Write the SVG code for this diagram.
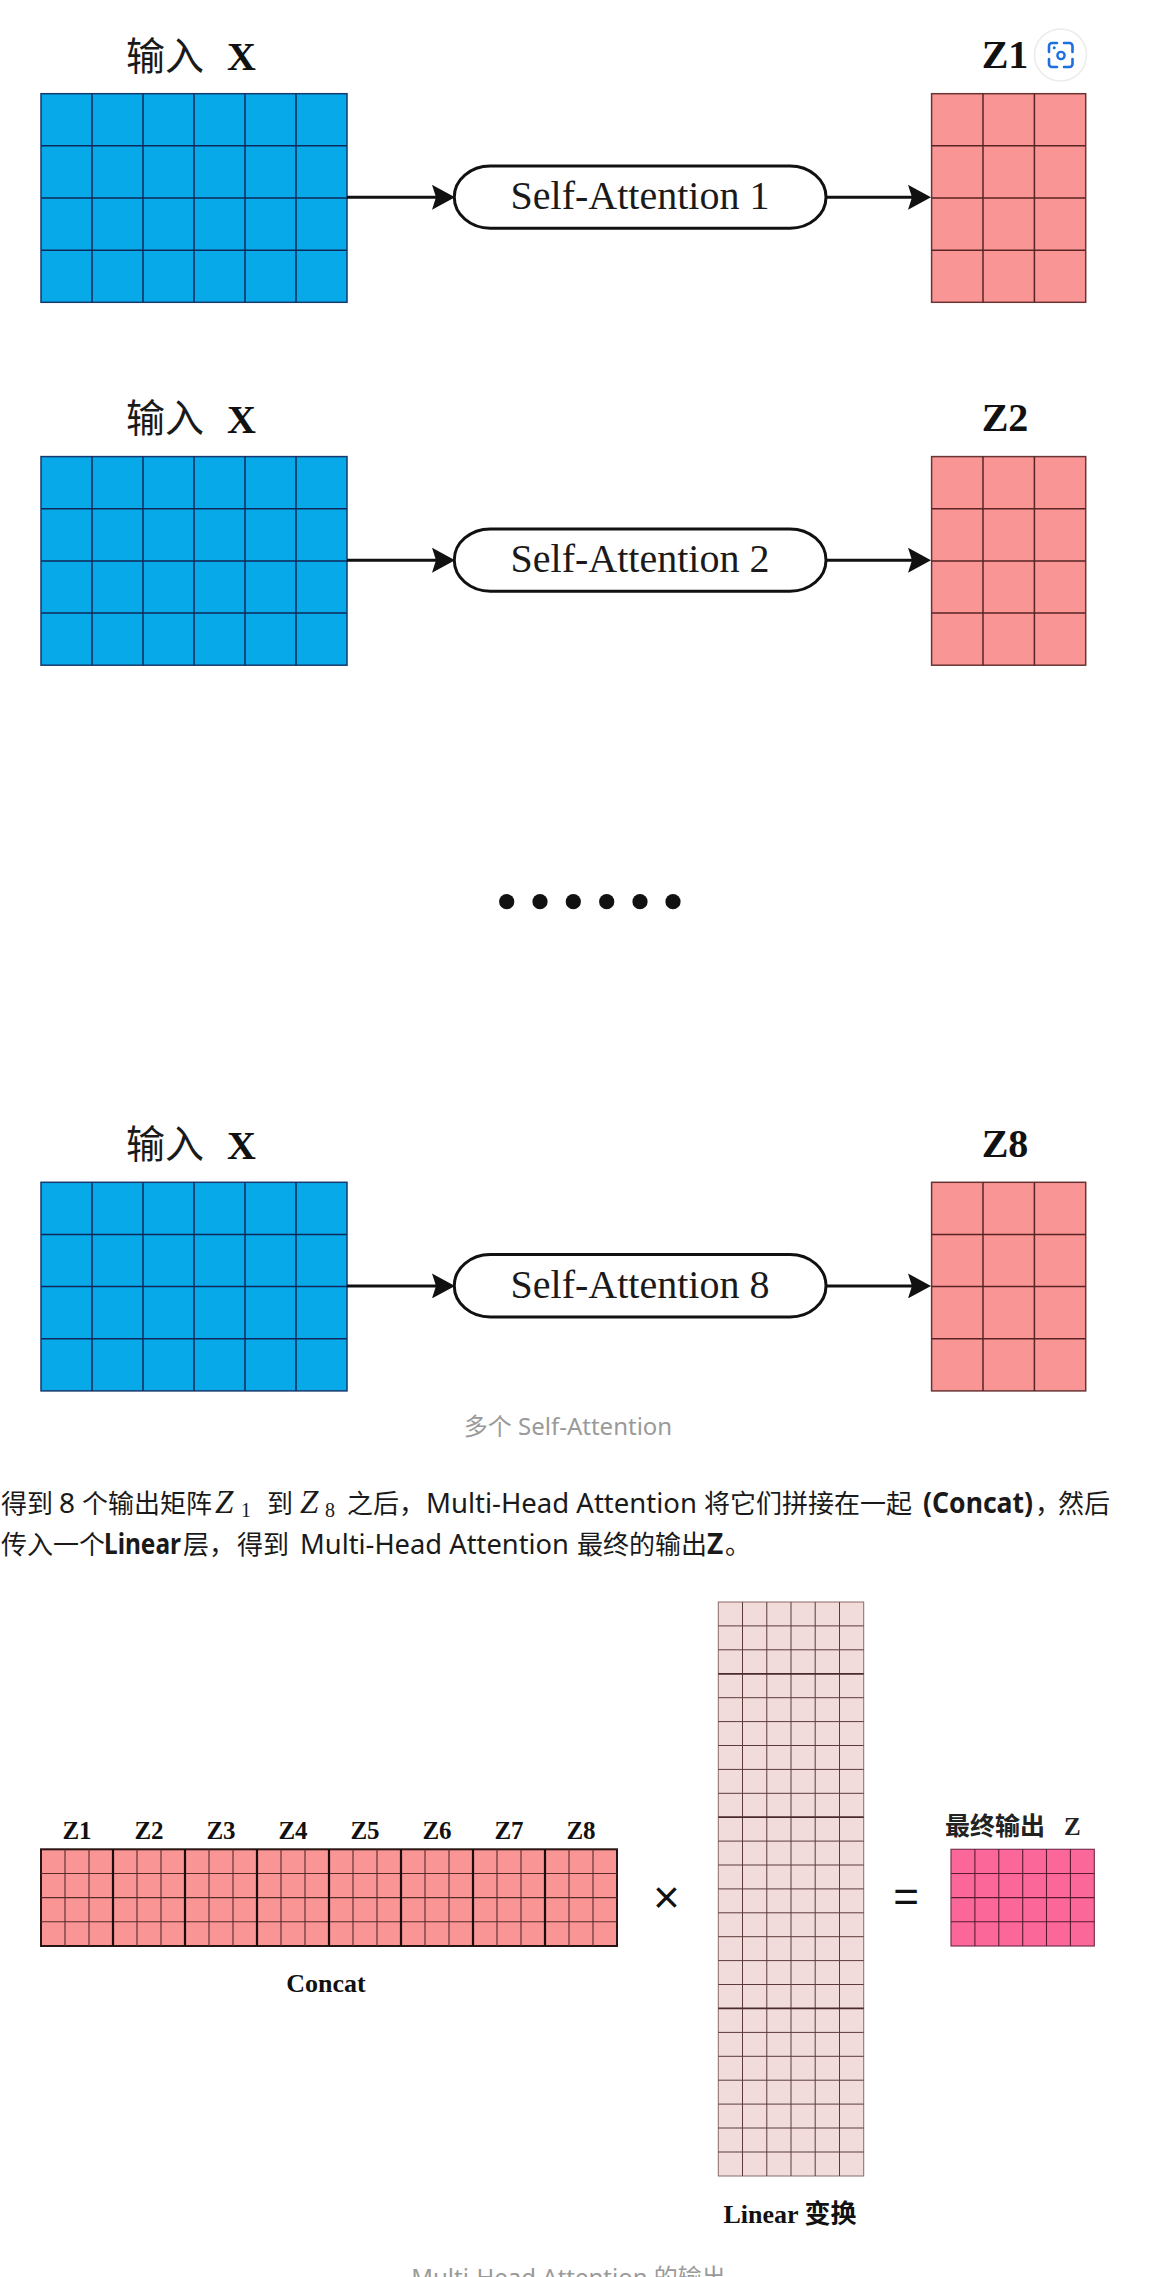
<svg xmlns="http://www.w3.org/2000/svg" xmlns:xlink="http://www.w3.org/1999/xlink" width="1167" height="2277" viewBox="0 0 1167 2277">
<style>
  .serif { font-family: "Liberation Serif", "Times New Roman", serif; }
  .lbl { font-family: "Liberation Serif", "Noto Sans CJK SC", serif; font-weight: 700; fill: #111; }
  .cjk { font-family: "Noto Sans CJK SC", sans-serif; fill: #1a1a1a; }
  .sa { font-family: "Liberation Serif", serif; font-size: 40px; fill: #1a1a1a; text-anchor: middle; }
  .pill { fill: #fff; stroke: #111; stroke-width: 3; }
  .conn { stroke: #111; stroke-width: 3; fill: none; marker-end: url(#ah); }
  .blue { fill: #07A9E8; stroke: #163a6e; stroke-width: 1.5; }
  .blueln { stroke: #0f2a58; stroke-width: 1.5; fill: none; }
  .pink { fill: #F99595; stroke: #6a3434; stroke-width: 1.5; }
  .pinkln { stroke: #5a2424; stroke-width: 1.5; fill: none; }
  .cap { font-family: "Noto Sans", "Noto Sans CJK SC", sans-serif; font-size: 24px; fill: #9a9a9a; text-anchor: middle; }
  .para { font-family: "Noto Sans", "Noto Sans CJK SC", sans-serif; font-size: 26px; fill: #1a1a1a; }
  .lat { font-size: 28px; }
  .b { font-weight: 700; }
  .math { font-family: "Liberation Serif", serif; font-style: italic; }
</style>
<defs>
  <marker id="ah" viewBox="0 0 23 25" refX="13" refY="12.5" markerWidth="23" markerHeight="25" markerUnits="userSpaceOnUse" orient="auto">
    <path d="M0,0 L23,12.5 L0,25 L4,12.5 z" fill="#111"/>
  </marker>
  <g id="bluegrid">
    <rect class="blue" x="41" y="93.7" width="306" height="208.6"/>
    <path class="blueln" d="M92,93.7V302.3M143,93.7V302.3M194,93.7V302.3M245,93.7V302.3M296,93.7V302.3M41,145.85H347M41,198H347M41,250.15H347"/>
  </g>
  <g id="pinkgrid">
    <rect class="pink" x="931.6" y="93.7" width="154.1" height="208.6"/>
    <path class="pinkln" d="M983,93.7V302.3M1034.4,93.7V302.3M931.6,145.85H1085.7M931.6,198H1085.7M931.6,250.15H1085.7"/>
  </g>
</defs>
<rect width="1167" height="2277" fill="#fff"/>

<!-- Panel 1 -->
<g id="panel1">
  <g id="input-x-1">
    <text class="cjk" x="126" y="69.5" font-size="39">输入</text>
    <text class="lbl" x="227" y="70" font-size="40">X</text>
    <use xlink:href="#bluegrid"/>
  </g>
  <g id="self-attention-1">
    <rect class="pill" x="454.3" y="166" width="371.7" height="62.3" rx="36" ry="31"/>
    <text class="sa" x="640" y="209.3">Self-Attention 1</text>
  </g>
  <g id="z1">
    <text class="lbl" x="1005" y="68.3" font-size="40" text-anchor="middle">Z1</text>
    <use xlink:href="#pinkgrid"/>
  </g>
</g>

<!-- Panel 2 -->
<g id="panel2" transform="translate(0,362.9)">
  <g id="input-x-2">
    <text class="cjk" x="126" y="69.5" font-size="39">输入</text>
    <text class="lbl" x="227" y="70" font-size="40">X</text>
    <use xlink:href="#bluegrid"/>
  </g>
  <g id="self-attention-2">
    <rect class="pill" x="454.3" y="166" width="371.7" height="62.3" rx="36" ry="31"/>
    <text class="sa" x="640" y="209.3">Self-Attention 2</text>
  </g>
  <g id="z2">
    <text class="lbl" x="1005" y="68.3" font-size="40" text-anchor="middle">Z2</text>
    <use xlink:href="#pinkgrid"/>
  </g>
</g>

<!-- Dots -->
<g id="ellipsis" fill="#111">
  <circle cx="506.7" cy="901.7" r="7.6"/>
  <circle cx="540" cy="901.7" r="7.6"/>
  <circle cx="573.3" cy="901.7" r="7.6"/>
  <circle cx="606.7" cy="901.7" r="7.6"/>
  <circle cx="640" cy="901.7" r="7.6"/>
  <circle cx="673" cy="901.7" r="7.6"/>
</g>

<!-- Panel 8 -->
<g id="panel8" transform="translate(0,1088.6)">
  <g id="input-x-8">
    <text class="cjk" x="126" y="69.5" font-size="39">输入</text>
    <text class="lbl" x="227" y="70" font-size="40">X</text>
    <use xlink:href="#bluegrid"/>
  </g>
  <g id="self-attention-8">
    <rect class="pill" x="454.3" y="166" width="371.7" height="62.3" rx="36" ry="31"/>
    <text class="sa" x="640" y="209.3">Self-Attention 8</text>
  </g>
  <g id="z8">
    <text class="lbl" x="1005" y="68.3" font-size="40" text-anchor="middle">Z8</text>
    <use xlink:href="#pinkgrid"/>
  </g>
</g>

<!-- Connectors -->
<g id="connectors">
  <path class="conn" d="M347,197.3H445"/>
  <path class="conn" d="M826,197.3H921"/>
  <path class="conn" d="M347,560.2H445"/>
  <path class="conn" d="M826,560.2H921"/>
  <path class="conn" d="M347,1285.9H445"/>
  <path class="conn" d="M826,1285.9H921"/>
</g>

<!-- Lens button overlay -->
<g id="lens-button">
  <circle cx="1060.5" cy="55" r="26" fill="#fff" stroke="#ececec" stroke-width="1.5"/>
  <path d="M1049,52 V46 a3,3 0 0 1 3,-3 H1057 M1064,43 H1069.5 a3,3 0 0 1 3,3 V52 M1072.5,59 V64 a3,3 0 0 1 -3,3 H1064 M1057,67 H1052 a3,3 0 0 1 -3,-3 V59" fill="none" stroke="#1f6fe0" stroke-width="2.6" stroke-linecap="round"/>
  <circle cx="1061" cy="55.5" r="3.6" fill="none" stroke="#1f6fe0" stroke-width="2.4"/>
  <circle cx="1054.2" cy="47.8" r="1.5" fill="#1f6fe0"/>
</g>

<!-- Caption 1 -->
<text class="cap" x="568" y="1435">多个 Self-Attention</text>

<!-- Paragraph -->
<g id="paragraph">
  <text class="para" y="1512.5"><tspan x="1">得到</tspan><tspan x="59" class="lat">8</tspan><tspan x="82">个输出矩阵</tspan><tspan x="215" class="math" font-size="33">Z</tspan><tspan x="241" dy="4.5" font-size="20" font-family="Liberation Serif">1</tspan><tspan x="267" dy="-4.5">到</tspan><tspan x="300" class="math" font-size="33">Z</tspan><tspan x="325" dy="4.5" font-size="20" font-family="Liberation Serif">8</tspan><tspan x="347" dy="-4.5">之后，</tspan><tspan x="426" class="lat" textLength="271" lengthAdjust="spacingAndGlyphs">Multi-Head Attention</tspan><tspan x="704">将它们拼接在一起</tspan><tspan x="923" class="b lat" textLength="110" lengthAdjust="spacingAndGlyphs">(Concat)</tspan><tspan x="1035">，</tspan><tspan x="1058">然后</tspan></text>
  <text class="para" y="1553.5"><tspan x="1">传入一个</tspan><tspan x="104" class="b lat" textLength="77" lengthAdjust="spacingAndGlyphs">Linear</tspan><tspan x="183">层，</tspan><tspan x="237">得到</tspan><tspan x="300" class="lat" textLength="269" lengthAdjust="spacingAndGlyphs">Multi-Head Attention</tspan><tspan x="577">最终的输出</tspan><tspan x="707" class="b lat">Z</tspan><tspan x="725">。</tspan></text>
</g>

<!-- Concat matrix -->
<g id="concat">
  <g class="lbl" font-size="25" text-anchor="middle">
    <text x="77" y="1839.3">Z1</text>
    <text x="149" y="1839.3">Z2</text>
    <text x="221" y="1839.3">Z3</text>
    <text x="293" y="1839.3">Z4</text>
    <text x="365" y="1839.3">Z5</text>
    <text x="437" y="1839.3">Z6</text>
    <text x="509" y="1839.3">Z7</text>
    <text x="581" y="1839.3">Z8</text>
  </g>
  <rect x="41" y="1849.3" width="576" height="96.7" fill="#F99595" stroke="#2a1414" stroke-width="2"/>
  <path d="M65,1849.3V1946M89,1849.3V1946M137,1849.3V1946M161,1849.3V1946M209,1849.3V1946M233,1849.3V1946M281,1849.3V1946M305,1849.3V1946M353,1849.3V1946M377,1849.3V1946M425,1849.3V1946M449,1849.3V1946M497,1849.3V1946M521,1849.3V1946M569,1849.3V1946M593,1849.3V1946M41,1873.5H617M41,1897.65H617M41,1921.8H617" stroke="#5a2a2a" stroke-width="1.1" fill="none"/>
  <path d="M113,1849.3V1946M185,1849.3V1946M257,1849.3V1946M329,1849.3V1946M401,1849.3V1946M473,1849.3V1946M545,1849.3V1946" stroke="#1a0d0d" stroke-width="2.2" fill="none"/>
  <text class="lbl" x="326" y="1991.7" font-size="26" text-anchor="middle">Concat</text>
</g>

<text id="times" x="666.5" y="1913" font-family="Liberation Sans, sans-serif" font-size="46" fill="#111" text-anchor="middle">×</text>

<!-- Linear matrix -->
<g id="linear">
  <rect x="718.3" y="1602" width="145.4" height="574" fill="#F2DCDB" stroke="#8a6a6a" stroke-width="1"/>
  <path d="M742.5,1602V2176M766.8,1602V2176M791,1602V2176M815.2,1602V2176M839.5,1602V2176
  M718.3,1625.9H863.7M718.3,1649.8H863.7M718.3,1697.7H863.7M718.3,1721.6H863.7M718.3,1745.5H863.7M718.3,1769.4H863.7M718.3,1793.3H863.7M718.3,1841.1H863.7M718.3,1865H863.7M718.3,1888.9H863.7M718.3,1912.8H863.7M718.3,1936.7H863.7M718.3,1960.6H863.7M718.3,1984.5H863.7M718.3,2032.4H863.7M718.3,2056.3H863.7M718.3,2080.2H863.7M718.3,2104.1H863.7M718.3,2128H863.7M718.3,2152H863.7" stroke="#5b3a3a" stroke-width="1" fill="none"/>
  <path d="M718.3,1673.8H863.7M718.3,1817.2H863.7M718.3,2008.4H863.7" stroke="#4a2a2a" stroke-width="1.7" fill="none"/>
  <text class="lbl" x="790" y="2223.3" font-size="26" text-anchor="middle">Linear 变换</text>
</g>

<text id="equals" x="906" y="1912" font-family="Liberation Sans, sans-serif" font-size="44" fill="#111" text-anchor="middle">=</text>

<!-- Final output Z -->
<g id="final-z">
  <text x="945" y="1835" font-size="25" fill="#222"><tspan font-family="Noto Sans CJK SC, sans-serif" font-weight="700">最终输出</tspan><tspan x="1064" font-family="Liberation Serif, serif" font-weight="700">Z</tspan></text>
  <rect x="951" y="1849.3" width="143.3" height="96.7" fill="#FB6799" stroke="#7a3050" stroke-width="1.2"/>
  <path d="M974.9,1849.3V1946M998.8,1849.3V1946M1022.7,1849.3V1946M1046.5,1849.3V1946M1070.4,1849.3V1946M951,1873.5H1094.3M951,1897.65H1094.3M951,1921.8H1094.3" stroke="#5a1a33" stroke-width="1.1" fill="none"/>
</g>

<!-- Caption 2 (cut off at the bottom edge, as in the reference) -->
<text class="cap" x="568.5" y="2286">Multi-Head Attention 的输出</text>
</svg>
